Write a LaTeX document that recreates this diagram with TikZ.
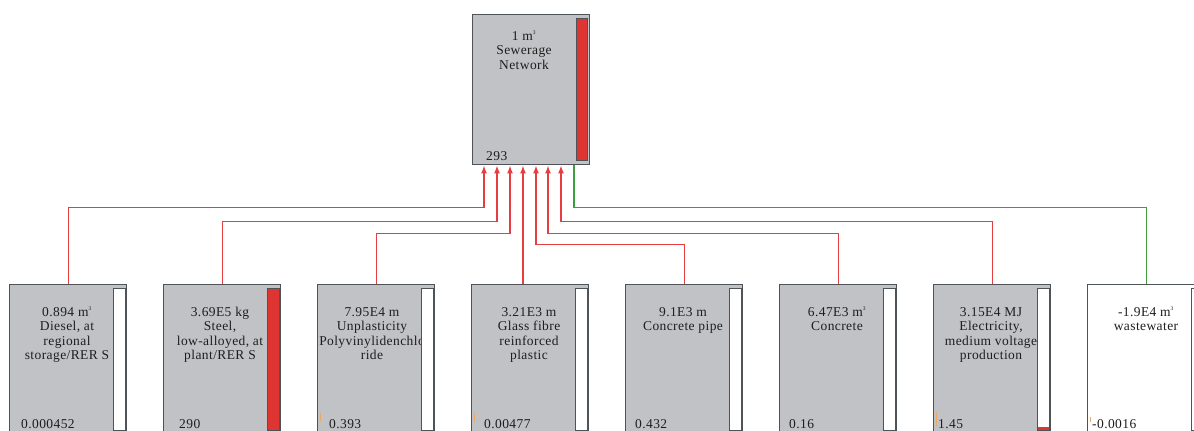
\documentclass[tikz,border=0pt]{standalone}
\usepackage{xcolor}
\usepackage{fontspec}
\setmainfont{Liberation Serif}[LetterSpace=3]
\usetikzlibrary{arrows.meta, positioning, calc}
\definecolor{boxgray}{RGB}{193, 194, 198}
\definecolor{framegray}{RGB}{78, 83, 88}
\definecolor{flowred}{RGB}{230, 62, 64}
\definecolor{flowgreen}{RGB}{62, 158, 62}
\definecolor{barred}{RGB}{222, 52, 50}
\definecolor{tickorange}{RGB}{232, 170, 100}
\definecolor{darktext}{RGB}{30, 30, 30}
\newcommand{\cubic}{\textsuperscript{\fontsize{5.5}{5.5}\selectfont 3}}
\newcommand{\topstrut}{\rule{0pt}{10pt}}
\tikzset{
    process/.style={rectangle, fill=boxgray, draw=framegray, line width=1.4pt,
        minimum width=117pt, minimum height=150pt, anchor=north west, inner sep=0pt},
    outflow/.style={process, fill=white},
    proclabel/.style={anchor=north, inner sep=0pt, align=center, text=darktext,
        font=\fontsize{13.5}{14.5}\selectfont},
    procvalue/.style={anchor=base west, inner sep=0pt, text=darktext,
        font=\fontsize{13.5}{14.5}\selectfont},
    emptybar/.style={fill=white, draw=framegray, line width=1pt},
    fullbar/.style={fill=barred, draw=framegray, line width=1pt},
    smalltick/.style={draw=tickorange, line width=0.8pt},
    flow/.style={draw=flowred, line width=1.4pt, -{Latex[length=8pt, width=6pt]}},
    avoided/.style={draw=flowgreen, line width=1.4pt}
}

\begin{document}
\begin{tikzpicture}[x=1pt, y=-1pt]
    \useasboundingbox (0,0) rectangle (1194,431);
    \clip (0,0) rectangle (1194,431);

    \node[process, minimum height=150pt] (sewer) at (472,14) {};
    \node[proclabel] (sewert) at ($(sewer.north west)+(52,16)$) {\topstrut 1 m\cubic\\Sewerage\\Network};
    \node[procvalue] (sewerv) at ($(sewer.north west)+(14,146)$) {293};
    \draw[fullbar] ($(sewer.north west)+(104,4)$) rectangle ($(sewer.north west)+(115,146)$);

    \node[process] (diesel) at (9,284) {};
    \node[process] (steel) at (163,284) {};
    \node[process] (pvdc) at (317,284) {};
    \node[process] (glass) at (471,284) {};
    \node[process] (pipe) at (625,284) {};
    \node[process] (concrete) at (779,284) {};
    \node[process] (elec) at (933,284) {};
    \node[outflow] (waste) at (1087,284) {};

    \node[proclabel] (dieselt) at ($(diesel.north west)+(58,22)$) {\topstrut 0.894 m\cubic\\Diesel, at\\regional\\storage/RER S};
    \node[proclabel] (steelt) at ($(steel.north west)+(57,22)$) {\topstrut 3.69E5 kg\\Steel,\\low-alloyed, at\\plant/RER S};
    \node[proclabel] (pvdct) at ($(pvdc.north west)+(55,22)$) {\topstrut 7.95E4 m\\Unplasticity\\Polyvinylidenchlo\\ride};
    \node[proclabel] (glasst) at ($(glass.north west)+(58,22)$) {\topstrut 3.21E3 m\\Glass fibre\\reinforced\\plastic};
    \node[proclabel] (pipet) at ($(pipe.north west)+(58,22)$) {\topstrut 9.1E3 m\\Concrete pipe};
    \node[proclabel] (concretet) at ($(concrete.north west)+(58,22)$) {\topstrut 6.47E3 m\cubic\\Concrete};
    \node[proclabel] (elect) at ($(elec.north west)+(58,22)$) {\topstrut 3.15E4 MJ\\Electricity,\\medium voltage\\production};
    \node[proclabel] (wastet) at ($(waste.north west)+(59,22)$) {\topstrut -1.9E4 m\cubic\\wastewater};

    \node[procvalue] (dieselv) at ($(diesel.north west)+(12,144)$) {0.000452};
    \node[procvalue] (steelv) at ($(steel.north west)+(16,144)$) {290};
    \node[procvalue] (pvdcv) at ($(pvdc.north west)+(12,144)$) {0.393};
    \node[procvalue] (glassv) at ($(glass.north west)+(13,144)$) {0.00477};
    \node[procvalue] (pipev) at ($(pipe.north west)+(10,144)$) {0.432};
    \node[procvalue] (concretev) at ($(concrete.north west)+(10,144)$) {0.16};
    \node[procvalue] (elecv) at ($(elec.north west)+(5,144)$) {1.45};
    \node[procvalue] (wastev) at ($(waste.north west)+(5,144)$) {-0.0016};

    \draw[emptybar] ($(diesel.north west)+(104,4)$) rectangle ($(diesel.north west)+(116,146)$);
    \draw[fullbar] ($(steel.north west)+(104,4)$) rectangle ($(steel.north west)+(116,146)$);
    \draw[emptybar] ($(pvdc.north west)+(104,4)$) rectangle ($(pvdc.north west)+(116,146)$);
    \draw[emptybar] ($(glass.north west)+(104,4)$) rectangle ($(glass.north west)+(116,146)$);
    \draw[emptybar] ($(pipe.north west)+(104,4)$) rectangle ($(pipe.north west)+(116,146)$);
    \draw[emptybar] ($(concrete.north west)+(104,4)$) rectangle ($(concrete.north west)+(116,146)$);
    \draw[emptybar] ($(elec.north west)+(104,4)$) rectangle ($(elec.north west)+(116,146)$);
    \fill[barred] ($(elec.north west)+(104.5,143)$) rectangle ($(elec.north west)+(115.5,145.5)$);
    \draw[emptybar] ($(waste.north west)+(104,4)$) rectangle ($(waste.north west)+(116,146)$);

    \draw[smalltick] ($(pvdc.north west)+(3,129)$) -- ++(0,8);
    \draw[smalltick] ($(glass.north west)+(3,129)$) -- ++(0,9);
    \draw[smalltick] ($(elec.north west)+(3,128)$) -- ++(0,14);
    \draw[smalltick] ($(waste.north west)+(3,133)$) -- ++(0,5);

    \coordinate (in1) at ($(sewer.south west)+(12,0)$);
    \coordinate (in2) at ($(sewer.south west)+(25,0)$);
    \coordinate (in3) at ($(sewer.south west)+(38,0)$);
    \coordinate (in4) at ($(sewer.south west)+(51,0)$);
    \coordinate (in5) at ($(sewer.south west)+(64,0)$);
    \coordinate (in6) at ($(sewer.south west)+(76,0)$);
    \coordinate (in7) at ($(sewer.south west)+(89,0)$);
    \coordinate (in8) at ($(sewer.south west)+(102,0)$);

    \draw[flow] (diesel.north) |- ([yshift=-42pt]in1) -- (in1);
    \draw[flow] (steel.north) |- ([yshift=-56pt]in2) -- (in2);
    \draw[flow] (pvdc.north) |- ([yshift=-68pt]in3) -- (in3);
    \draw[flow] (glass.north -| in4) -- (in4);
    \draw[flow] (pipe.north) |- ([yshift=-79pt]in5) -- (in5);
    \draw[flow] (concrete.north) |- ([yshift=-68pt]in6) -- (in6);
    \draw[flow] (elec.north) |- ([yshift=-56pt]in7) -- (in7);
    \draw[avoided] (waste.north) |- ([yshift=-42pt]in8) -- (in8);
\end{tikzpicture}
\end{document}
